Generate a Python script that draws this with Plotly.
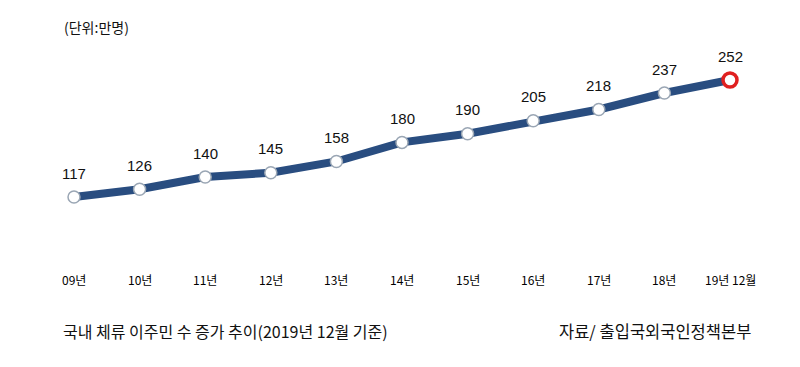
import plotly.graph_objects as go

years = ["09년", "10년", "11년", "12년", "13년", "14년", "15년", "16년", "17년", "18년", "19년 12월"]
values = [117, 126, 140, 145, 158, 180, 190, 205, 218, 237, 252]
unit_label = "(단위:만명)"
caption_left = "국내 체류 이주민 수 증가 추이(2019년 12월 기준)"
caption_right = "자료/ 출입국외국인정책본부"

FONT = "Noto Sans CJK KR, Noto Sans, sans-serif"
NUMFONT = "Liberation Sans, Arial, sans-serif"
OFF = 8  # page body margin
W, H = 800 - OFF, 367 - OFF
idx = list(range(len(values)))

fig = go.Figure()
fig.add_trace(go.Scatter(
    x=idx, y=values, mode="lines",
    line=dict(color="#294d80", width=8, shape="linear"),
    hoverinfo="skip", showlegend=False,
))
fig.add_trace(go.Scatter(
    x=idx[:-1], y=values[:-1], mode="markers",
    marker=dict(size=12, color="white", line=dict(color="#9aa6b4", width=1.5)),
    showlegend=False,
))
fig.add_trace(go.Scatter(
    x=idx[-1:], y=values[-1:], mode="markers",
    marker=dict(size=14, color="white", line=dict(color="#e02020", width=3.5)),
    showlegend=False,
))

for i, v in enumerate(values):
    fig.add_annotation(x=i, y=v, xref="x", yref="y", text=str(v), showarrow=False,
                       yshift=24, font=dict(family=NUMFONT, size=15, color="#111"),
                       xanchor="center", yanchor="middle")

def py(p):
    return 1 - (p - OFF) / H

def px(p):
    return (p - OFF) / W

for i, lab in enumerate(years):
    fig.add_annotation(x=i, y=py(279), xref="x", yref="paper", text=lab,
                       showarrow=False, font=dict(family=FONT, size=12, color="#000"),
                       xanchor="center", yanchor="middle")

fig.add_annotation(x=px(62), y=py(27), xref="paper", yref="paper", text=unit_label,
                   showarrow=False, font=dict(family=FONT, size=14, color="#111"),
                   xanchor="left", yanchor="middle")
fig.add_annotation(x=px(61), y=py(331), xref="paper", yref="paper", text=caption_left,
                   showarrow=False, font=dict(family=FONT, size=16, color="#111"),
                   xanchor="left", yanchor="middle")
fig.add_annotation(x=px(753), y=py(331), xref="paper", yref="paper", text=caption_right,
                   showarrow=False, font=dict(family=FONT, size=16.5, color="#111"),
                   xanchor="right", yanchor="middle")

sx = 65.6
x0 = 74 - OFF
fig.update_xaxes(range=[-x0 / sx, (W - x0) / sx], visible=False, fixedrange=True)
k = (197 - 80) / (252 - 117)
y0 = 197 - OFF
fig.update_yaxes(range=[117 - (H - y0) / k, 117 + y0 / k], visible=False, fixedrange=True)

fig.update_layout(
    width=W, height=H, margin=dict(l=0, r=0, t=0, b=0),
    plot_bgcolor="white", paper_bgcolor="white",
)
fig.write_html("out.html")
